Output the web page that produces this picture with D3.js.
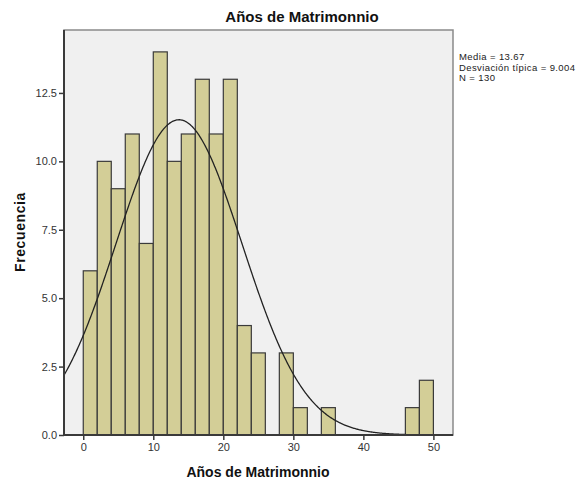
<!DOCTYPE html>
<html>
<head>
<meta charset="utf-8">
<script src="https://cdn.jsdelivr.net/npm/d3@7"></script>
<style>
html,body{margin:0;padding:0;background:#fff;}
text{font-family:"Liberation Sans",Arial,sans-serif;}
</style>
</head>
<body>
<svg id="chart" width="588" height="483"></svg>
<script>
// Data
const binStarts = [0,2,4,6,8,10,12,14,16,18,20,22,24,26,28,30,32,34,36,38,40,42,44,46,48];
const counts    = [6,10,9,11,7,14,10,11,13,11,13,4,3,0,3,1,0,1,0,0,0,0,0,1,2];
const binWidth = 2;
const xTicks = [0,10,20,30,40,50];
const yTicks = [0.0,2.5,5.0,7.5,10.0,12.5];
const stats = {mean:13.67, sd:9.004, n:130};
const statLines = ["Media = 13.67","Desviación típica = 9.004","N = 130"];

const svg = d3.select("#chart");
const L=64, R=453, T=30, B=435;

const x = d3.scaleLinear().domain([-2.75,52.8]).range([L,R]);
const y = d3.scaleLinear().domain([0,14.8]).range([B,T]);

// plot background
svg.append("rect").attr("x",L).attr("y",T).attr("width",R-L).attr("height",B-T)
  .attr("fill","#f0f0f0").attr("stroke","#8a8a8a").attr("stroke-width",1.5);

// bars
const bins = binStarts.map((s,i)=>({x0:s,x1:s+binWidth,c:counts[i]})).filter(d=>d.c>0);
svg.append("g").selectAll("rect").data(bins).join("rect")
  .attr("x",d=>x(d.x0)).attr("y",d=>y(d.c))
  .attr("width",d=>x(d.x1)-x(d.x0)).attr("height",d=>y(0)-y(d.c))
  .attr("fill","#d3ce97").attr("stroke","#3a3a3a").attr("stroke-width",1.2);

// normal curve
const pdf = v => stats.n*binWidth/(stats.sd*Math.sqrt(2*Math.PI))*Math.exp(-0.5*((v-stats.mean)/stats.sd)**2);
const xs = d3.range(x.domain()[0], x.domain()[1], 0.1);
svg.append("path").datum(xs)
  .attr("d", d3.line().x(v=>x(v)).y(v=>y(pdf(v))))
  .attr("fill","none").attr("stroke","#222").attr("stroke-width",1.3);

// axes
const yAxis = svg.append("g").attr("transform",`translate(${L},0)`)
  .call(d3.axisLeft(y).tickValues(yTicks).tickFormat(d3.format(".1f")).tickSize(5).tickPadding(2));
const xAxis = svg.append("g").attr("transform",`translate(0,${B})`)
  .call(d3.axisBottom(x).tickValues(xTicks).tickFormat(d3.format("d")).tickSize(5).tickPadding(3));
[yAxis,xAxis].forEach(a=>{
  a.select(".domain").attr("stroke","#3a3a3a").attr("stroke-width",2);
  a.selectAll(".tick line").attr("stroke","#3a3a3a").attr("stroke-width",1.5);
  a.selectAll(".tick text").attr("fill","#333").style("font-size","11px").style("font-family","Liberation Sans, Arial, sans-serif");
});
yAxis.select(".domain").attr("d",`M0,${T}V${B}`);
xAxis.select(".domain").attr("d",`M${L},0H${R}`);

// title
svg.append("text").attr("x",302).attr("y",22).attr("text-anchor","middle")
  .style("font-size","15px").style("font-weight","bold").attr("fill","#111").text("Años de Matrimonnio");
// axis labels
svg.append("text").attr("x",258).attr("y",477).attr("text-anchor","middle")
  .style("font-size","14px").style("font-weight","bold").attr("fill","#111").text("Años de Matrimonnio");
svg.append("text").attr("transform","translate(25,232) rotate(-90)").attr("text-anchor","middle")
  .style("font-size","14px").style("font-weight","bold").style("letter-spacing","0.6px").attr("fill","#111").text("Frecuencia");

// stats
svg.append("g").selectAll("text").data(statLines).join("text")
  .attr("x",459).attr("y",(d,i)=>60+i*10.5)
  .style("font-size","9.5px").style("letter-spacing","0.4px").attr("fill","#222").text(d=>d);
</script>
</body>
</html>
